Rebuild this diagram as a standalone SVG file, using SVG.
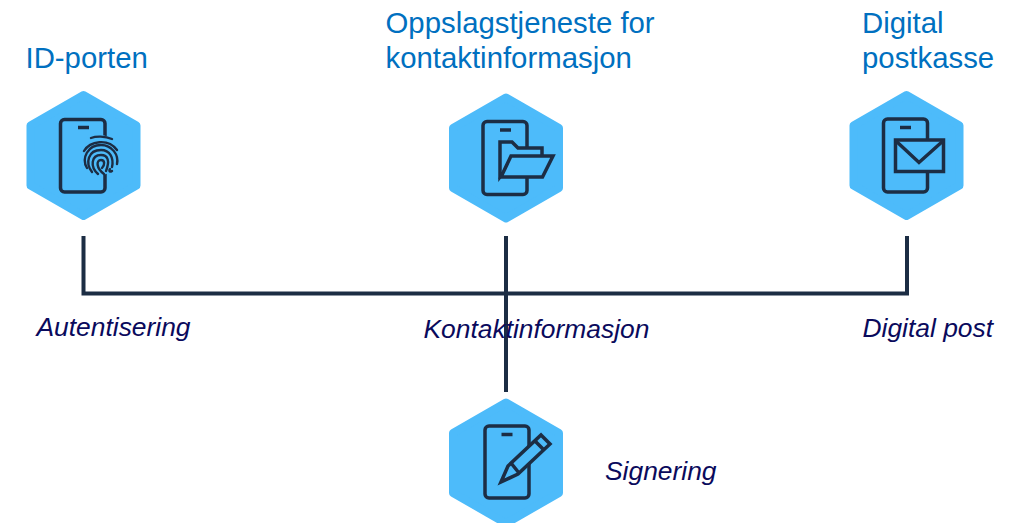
<svg xmlns="http://www.w3.org/2000/svg" width="1015" height="523" viewBox="0 0 1015 523">
<style>
.t{font-family:"Liberation Sans",Arial,sans-serif;font-size:29.35px;fill:#0070c0}
.l{font-family:"Liberation Sans",Arial,sans-serif;font-size:26.4px;font-style:italic;fill:#0a0a5c}
.hex{fill:#4dbbfa;stroke:#4dbbfa;stroke-width:8;stroke-linejoin:round}
.i{fill:none;stroke:#1c2d44;stroke-width:3.5;stroke-linejoin:miter}
.f{fill:#4dbbfa;stroke:#1c2d44;stroke-width:3.5}
.c{fill:none;stroke:#1c2d44;stroke-width:4}
</style>
<defs>
<polygon id="hx" points="57,4.500 110,35 110,95 57,125.500 4,95 4,35"/>
</defs>
<g id="connectors">
<path class="c" d="M83.500 236V293.500H907V236"/>
<path class="c" d="M506 236V392"/>
</g>
<g id="id-porten">
<use href="#hx" class="hex" x="26.500" y="90.500"/>
<rect class="i" x="60.500" y="119.500" width="44.500" height="72.500" rx="4"/>
<path class="i" d="M78 127.500H89"/>
<ellipse cx="100.500" cy="155" rx="18" ry="20" fill="#4dbbfa"/>
<g fill="none" stroke="#1c2d44" stroke-width="2.400" stroke-linecap="round">
<path d="M91 138C96 136 105 136 112 139"/>
<path d="M84 151C90 141 108 138 117 150"/>
<path d="M87 168C81 158 88 145 101 145C112 145 119 155 117 164"/>
<path d="M92 172C85 163 88 150 101 150C110 150 114 158 112 167"/>
<path d="M98 174C90 167 91 155 101 155C108 155 110 161 106 171"/>
<path d="M104 174C96 168 96 160 101 160C105 160 105 165 102 168"/>
<path d="M112 171C109 173 109 170 110 169"/>
</g>
</g>
<g id="oppslagstjeneste">
<use href="#hx" class="hex" x="449" y="93"/>
<rect class="i" x="483" y="121.500" width="44" height="73" rx="4"/>
<path class="i" d="M500 130H511"/>
<path class="f" d="M500 177V142H512L518 148H542V162H512Z"/>
<path class="f" d="M511 156H553L542.500 177H501Z"/>
</g>
<g id="digital-postkasse">
<use href="#hx" class="hex" x="849.500" y="90.500"/>
<rect class="i" x="883.500" y="119" width="44" height="73" rx="4"/>
<path class="i" d="M900 127.500H911"/>
<rect class="f" x="895.500" y="140" width="48" height="31.500"/>
<path class="i" d="M896 141L919 162.500L943 141"/>
</g>
<g id="signering">
<use href="#hx" class="hex" x="449" y="398"/>
<rect class="i" x="485" y="426" width="44" height="72" rx="4"/>
<path class="i" d="M501.500 434.500H512.500"/>
<path class="f" d="M501 482L508 466L541 435L550 444L518 474Z"/>
<path class="i" d="M511 463L519 473M535 441L544 450"/>
</g>
<g id="labels">
<text class="t" x="25.500" y="68">ID-porten</text>
<text class="t" x="385.500" y="33">Oppslagstjeneste for</text>
<text class="t" x="385.500" y="68">kontaktinformasjon</text>
<text class="t" x="862" y="33">Digital</text>
<text class="t" x="862" y="68">postkasse</text>
<text class="l" x="36.500" y="335.500">Autentisering</text>
<text class="l" x="423.500" y="337.500">Kontaktinformasjon</text>
<text class="l" x="862.500" y="336.500">Digital post</text>
<text class="l" x="605" y="479.500">Signering</text>
</g>
</svg>
